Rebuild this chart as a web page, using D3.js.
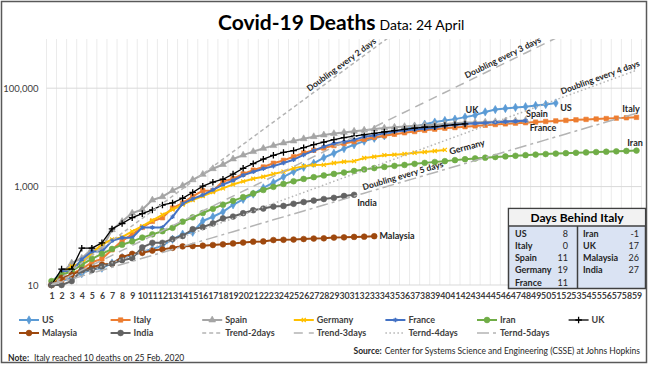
<!doctype html>
<html>
<head>
<meta charset="utf-8">
<title>Covid-19 Deaths</title>
<script src="https://d3js.org/d3.v7.min.js"></script>
<style>
  body { margin: 0; background: #fff; }
  svg { display: block; font-family: Lato, "Open Sans", sans-serif; }
</style>
</head>
<body>
<svg id="chart" width="650" height="366"></svg>
<script>
// days since each country reached 10 deaths (category axis)
var days = d3.range(1, 60);

// cumulative deaths, day 1 = day the country reached ~10 deaths
var us = [11, 12, 14, 17, 21, 22, 28, 36, 40, 47, 54, 63, 85, 108, 118, 200, 244, 307, 427, 552,
  706, 942, 1209, 1581, 2026, 2467, 2978, 3873, 4757, 5926, 7087, 8407, 9619, 10783, 12722, 14695,
  16478, 18586, 20463, 22020, 23529, 25832, 28326, 32916, 36773, 38664, 40661, 42094, 44444, 46622, 49954];
var italy = [11, 12, 17, 21, 29, 34, 52, 79, 107, 148, 197, 233, 366, 463, 631, 827, 827, 1266, 1441,
  1809, 2158, 2503, 2978, 3405, 4032, 4825, 5476, 6077, 6820, 7503, 8215, 9134, 10023, 10779, 11591,
  12428, 13155, 13915, 14681, 15362, 15887, 16523, 17127, 17669, 18279, 18849, 19468, 19899, 20465,
  21067, 21645, 22170, 22745, 23227, 23660, 24114, 24648, 25085, 25549];
var spain = [10, 17, 28, 35, 54, 55, 133, 195, 289, 342, 533, 623, 830, 1043, 1375, 1772, 2311, 2808,
  3647, 4365, 5138, 5982, 6803, 7716, 8464, 9387, 10348, 11198, 11947, 12641, 13341, 14045, 14792,
  15447, 16081, 16606, 17209, 17756, 18056, 18708, 19315, 20002, 20043, 20453, 20852, 21282, 21717, 22157];
var germany = [11, 17, 24, 28, 44, 67, 84, 94, 123, 157, 206, 267, 342, 433, 533, 645, 775, 920, 1107,
  1275, 1444, 1584, 1810, 2016, 2349, 2607, 2736, 2767, 3022, 3194, 3294, 3804, 4052, 4352, 4459, 4586,
  4862, 5033, 5279, 5575];
var france = [11, 19, 19, 33, 48, 48, 79, 91, 91, 148, 148, 148, 243, 450, 562, 674, 860, 1100, 1331,
  1696, 1995, 2314, 2606, 3024, 3523, 4403, 5387, 6507, 7560, 8078, 8911, 10328, 10869, 12210, 13197,
  13832, 14393, 14967, 15729, 17167, 17920, 18681, 19323, 19718, 20265, 20796, 21340, 21856];
var iran = [12, 16, 19, 26, 34, 43, 54, 66, 77, 92, 107, 124, 145, 194, 237, 291, 354, 429, 514, 611,
  724, 853, 988, 1135, 1284, 1433, 1556, 1685, 1812, 1934, 2077, 2234, 2378, 2517, 2640, 2757, 2898,
  3036, 3160, 3294, 3452, 3603, 3739, 3872, 3993, 4110, 4232, 4357, 4474, 4585, 4683, 4777, 4869,
  4958, 5031, 5118, 5209, 5297, 5391];
var uk = [10, 21, 21, 56, 56, 72, 138, 178, 234, 282, 336, 423, 466, 580, 761, 1021, 1231, 1411, 1793,
  2357, 2926, 3611, 4320, 4943, 5385, 6171, 7111, 7993, 8974, 9892, 10629, 11347, 12129, 12894, 13759,
  14607, 15498, 16095, 16550, 17378, 18151, 18791];
var malaysia = [10, 14, 16, 20, 23, 26, 27, 37, 43, 45, 50, 53, 57, 61, 62, 63, 65, 67, 70, 73, 76, 77,
  82, 83, 84, 86, 88, 89, 92, 93, 95, 96, 98];
var india = [10, 10, 12, 20, 20, 24, 27, 32, 35, 58, 72, 72, 86, 99, 136, 150, 178, 226, 246, 288, 331,
  358, 393, 405, 448, 486, 521, 559, 592, 645, 681];

var seriesNames = ["US", "Italy", "Spain", "Germany", "France", "Iran", "UK", "Malaysia", "India"];
var seriesValues = [us, italy, spain, germany, france, iran, uk, malaysia, india];

// reference lines: deaths doubling every n days from 10 on day 1
var trendNames = ["Trend-2days", "Trend-3days", "Ternd-4days", "Ternd-5days"];
var doublingDays = [2, 3, 4, 5];
var trendStart = 10;

// days behind italy table
var behindNames = ["US", "Italy", "Spain", "Germany", "France", "Iran", "UK", "Malaysia", "India"];
var behindDays = [8, 0, 11, 19, 11, -1, 17, 26, 27];

var yTicks = [10, 1000, 100000];

// look of each series (excel 2013 palette)
var looks = {
  "US":       { color: "#5b9bd5", marker: "diamond", size: 20 },
  "Italy":    { color: "#ed7d31", marker: "square",  size: 20 },
  "Spain":    { color: "#a5a5a5", marker: "triangle", size: 20 },
  "Germany":  { color: "#ffc000", marker: "x",       size: 12 },
  "France":   { color: "#4472c4", marker: "star",    size: 14 },
  "Iran":     { color: "#70ad47", marker: "circle",  size: 26 },
  "UK":       { color: "#000000", marker: "plus",    size: 16, width: 1.3 },
  "Malaysia": { color: "#9e480e", marker: "circle",  size: 26 },
  "India":    { color: "#636363", marker: "circle",  size: 26 }
};
var trendLooks = [
  { dash: "4,3" }, { dash: "9,6" }, { dash: "1.5,2.5" }, { dash: "12,4,3,4" }
];
var trendColor = "#b4b4b4";

var svg = d3.select("#chart");
var textColor = "#404040";

// outer frame
svg.append("rect")
  .attr("x", 1.5).attr("y", 1.5).attr("width", 645).attr("height", 361)
  .attr("fill", "#fff").attr("stroke", "#595959").attr("stroke-width", 1.5);

// title
var title = svg.append("text").attr("x", 218).attr("y", 30).attr("fill", "#000");
title.append("tspan").attr("font-size", 21).attr("font-weight", "bold").text("Covid-19 Deaths");
title.append("tspan").attr("font-size", 14).attr("dx", 4).text("Data: 24 April");

// scales
var x = d3.scalePoint().domain(days).range([51.5, 636.5]);
var step = x.step();
var y = d3.scaleLog().domain([10, 1e6]).range([285, 39]);
var plotLeft = x(days[0]) - step / 2, plotRight = x(days[days.length - 1]) + step / 2;
var plotTop = y(1e6), plotBottom = y(10);

// gridlines
var grid = svg.append("g");
grid.selectAll(".vg")
  .data(d3.range(days.length + 1))
  .enter().append("line")
    .attr("x1", function(i) { return plotLeft + i * step; })
    .attr("x2", function(i) { return plotLeft + i * step; })
    .attr("y1", plotTop).attr("y2", plotBottom)
    .attr("stroke", "#ebebeb").attr("stroke-width", 1);
grid.selectAll(".hg")
  .data(yTicks)
  .enter().append("line")
    .attr("x1", plotLeft).attr("x2", plotRight)
    .attr("y1", function(d) { return y(d); })
    .attr("y2", function(d) { return y(d); })
    .attr("stroke", "#d9d9d9").attr("stroke-width", 1);

// y axis
var yAxis = svg.append("g")
  .attr("transform", "translate(" + plotLeft + ",0)")
  .call(d3.axisLeft(y).tickValues(yTicks).tickFormat(d3.format(",")).tickSize(0).tickPadding(8));
yAxis.select(".domain").remove();
yAxis.selectAll("text")
  .attr("font-family", "Lato, sans-serif").attr("font-size", 9.5).attr("fill", textColor);

// x axis
var xAxis = svg.append("g")
  .attr("transform", "translate(0," + plotBottom + ")")
  .call(d3.axisBottom(x).tickSize(0).tickPadding(8));
xAxis.select(".domain").remove();
xAxis.selectAll("text")
  .attr("font-family", "Lato, sans-serif").attr("font-size", 8.8)
  .attr("font-weight", "bold").attr("fill", textColor);

// marker helper
var symbols = {
  diamond: d3.symbolDiamond, square: d3.symbolSquare, triangle: d3.symbolTriangle,
  circle: d3.symbolCircle, x: d3.symbolX || d3.symbolTimes, star: d3.symbolAsterisk,
  plus: d3.symbolPlus || d3.symbolCross
};
function drawMarker(sel, look) {
  var stroked = look.marker == "x" || look.marker == "star" || look.marker == "plus";
  sel.attr("d", d3.symbol(symbols[look.marker], look.size))
    .attr("fill", stroked ? "none" : look.color)
    .attr("stroke", look.color)
    .attr("stroke-width", stroked ? 1.3 : 0.6);
}

var line = d3.line()
  .x(function(d, i) { return x(days[i]); })
  .y(function(d) { return y(d); });

// country series
var series = svg.append("g");
seriesNames.forEach(function(name, k) {
  var look = looks[name];
  var g = series.append("g");
  g.append("path")
    .attr("d", line(seriesValues[k]))
    .attr("fill", "none")
    .attr("stroke", look.color)
    .attr("stroke-width", look.width || 2)
    .attr("stroke-linejoin", "round");
  g.selectAll("path.m")
    .data(seriesValues[k])
    .enter().append("path")
      .attr("class", "m")
      .attr("transform", function(d, i) { return "translate(" + x(days[i]) + "," + y(d) + ")"; })
      .call(drawMarker, look);
});

// doubling trend lines, clipped to the plot area
svg.append("clipPath").attr("id", "plot")
  .append("rect").attr("x", plotLeft).attr("y", plotTop)
  .attr("width", plotRight - plotLeft).attr("height", plotBottom - plotTop);
var trends = svg.append("g").attr("clip-path", "url(#plot)");
doublingDays.forEach(function(n, k) {
  var vals = days.map(function(d) { return trendStart * Math.pow(2, (d - 1) / n); });
  trends.append("path")
    .attr("d", line(vals))
    .attr("fill", "none")
    .attr("stroke", trendColor)
    .attr("stroke-width", 1.5)
    .attr("stroke-dasharray", trendLooks[k].dash);
});

// trend labels sit just above their line
var trendLabelDay = [30.1, 46, 55.6, 36];
doublingDays.forEach(function(n, k) {
  var d = trendLabelDay[k];
  var px = x(1) + (d - 1) * step;
  var py = y(trendStart * Math.pow(2, (d - 1) / n));
  var slope = (y(trendStart * Math.pow(2, 1 / n)) - y(trendStart)) / step;
  var ang = Math.atan(slope) * 180 / Math.PI;
  svg.append("text")
    .attr("transform", "translate(" + px + "," + py + ") rotate(" + ang + ")")
    .attr("y", -3)
    .attr("text-anchor", "middle")
    .attr("font-size", 8.5).attr("font-weight", "bold").attr("fill", "#262626")
    .text("Doubling every " + n + " days");
});

// series name labels
var labelPos = [
  ["UK", 472, 110, 0], ["US", 566, 108, 0], ["Spain", 537, 114, 0], ["France", 543, 128, 0],
  ["Italy", 631, 109, 0], ["Germany", 467, 147, -15], ["Iran", 635, 143, 0],
  ["India", 367, 203, 0], ["Malaysia", 397, 236, 0]
];
labelPos.forEach(function(p) {
  svg.append("text")
    .attr("transform", "translate(" + p[1] + "," + p[2] + ") rotate(" + p[3] + ")")
    .attr("dy", "0.35em")
    .attr("text-anchor", "middle")
    .attr("font-size", 9).attr("font-weight", "bold").attr("fill", "#262626")
    .text(p[0]);
});

// days behind italy table
var tb = svg.append("g");
tb.append("rect").attr("x", 508.5).attr("y", 208.5).attr("width", 137).attr("height", 80)
  .attr("fill", "#dae3f3").attr("stroke", "#404040").attr("stroke-width", 1.5);
tb.append("rect").attr("x", 509.25).attr("y", 209.25).attr("width", 135.5).attr("height", 16.5)
  .attr("fill", "#f2f2f2");
tb.append("line").attr("x1", 508.5).attr("x2", 645.5).attr("y1", 226).attr("y2", 226)
  .attr("stroke", "#404040").attr("stroke-width", 1.5);
tb.append("line").attr("x1", 577.5).attr("x2", 577.5).attr("y1", 226).attr("y2", 288.5)
  .attr("stroke", "#404040").attr("stroke-width", 1.5);
tb.append("text").attr("x", 577).attr("y", 221.5).attr("text-anchor", "middle")
  .attr("font-size", 12).attr("font-weight", "bold").attr("fill", "#000")
  .text("Days Behind Italy");
behindNames.forEach(function(name, i) {
  var col = i < 5 ? 0 : 1, row = i < 5 ? i : i - 5;
  var by = 236.5 + row * 12.3;
  tb.append("text").attr("x", col ? 583 : 515).attr("y", by)
    .attr("font-size", 9).attr("font-weight", "bold").attr("fill", "#262626").text(name);
  tb.append("text").attr("x", col ? 639 : 568).attr("y", by).attr("text-anchor", "end")
    .attr("font-size", 9).attr("fill", "#262626").text(behindDays[i]);
});

// legend
var legendNames = seriesNames.concat(trendNames);
var legend = svg.append("g");
legendNames.forEach(function(name, i) {
  var row = i < 7 ? 0 : 1, col = i < 7 ? i : i - 7;
  var lx = 19 + col * 91.6, ly = 320 + row * 13;
  var g = legend.append("g").attr("transform", "translate(" + lx + "," + ly + ")");
  if (i < seriesNames.length) {
    var look = looks[name];
    g.append("line").attr("x1", 0).attr("x2", 20).attr("stroke", look.color)
      .attr("stroke-width", look.width || 2);
    g.append("path").attr("transform", "translate(10,0)").call(drawMarker, look);
  } else {
    g.append("line").attr("x1", 0).attr("x2", 20).attr("stroke", trendColor)
      .attr("stroke-width", 1.5).attr("stroke-dasharray", trendLooks[i - seriesNames.length].dash);
  }
  g.append("text").attr("x", 23).attr("dy", "0.35em")
    .attr("font-size", 9).attr("font-weight", "bold").attr("fill", textColor).text(name);
});

// notes
var note = svg.append("text").attr("x", 8).attr("y", 360.5).attr("font-size", 8.5).attr("fill", "#262626");
note.append("tspan").attr("font-weight", "bold").text("Note:");
note.append("tspan").attr("dx", 5).text("Italy reached 10 deaths on 25 Feb. 2020");
var src = svg.append("text").attr("x", 640).attr("y", 354).attr("text-anchor", "end")
  .attr("font-size", 8.5).attr("fill", "#262626");
src.append("tspan").attr("font-weight", "bold").text("Source:");
src.append("tspan").attr("dx", 3).text("Center for Systems Science and Engineering (CSSE) at Johns Hopkins");
</script>
</body>
</html>
